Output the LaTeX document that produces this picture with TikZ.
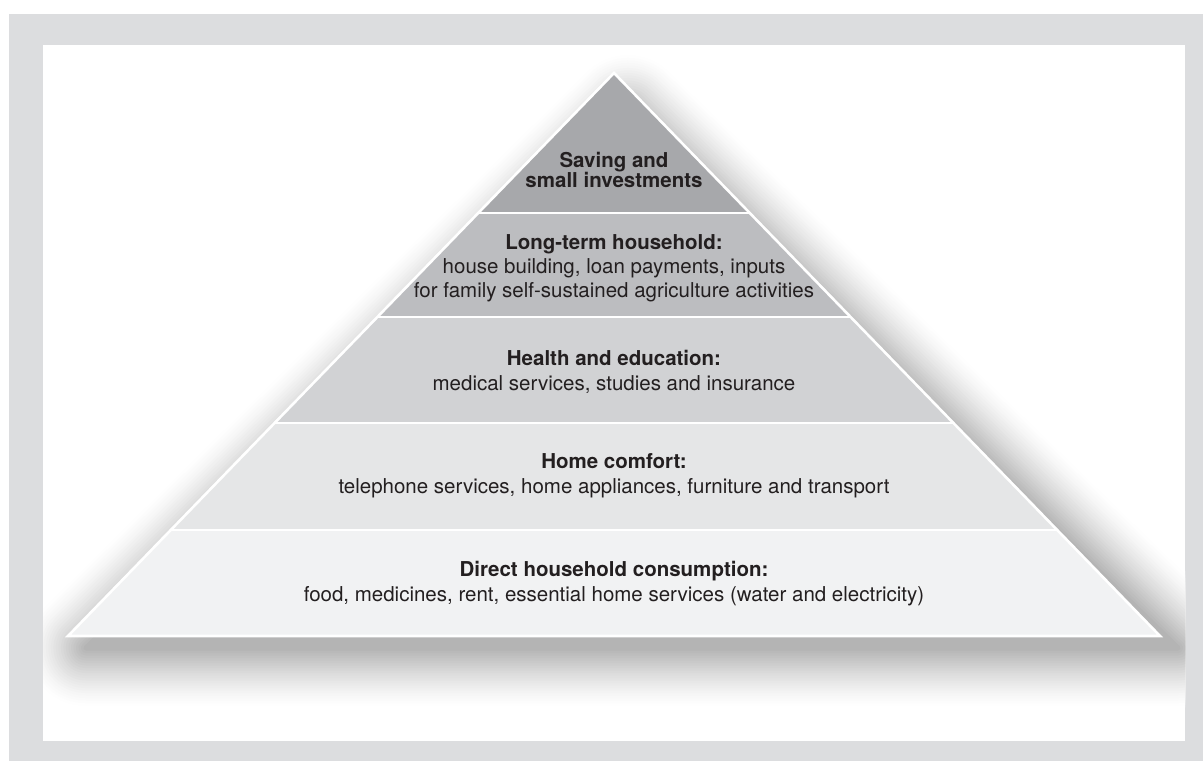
\documentclass[tikz,border=0pt]{standalone}
\usepackage{fontspec}
\setmainfont{TeX Gyre Heros}
\usepackage{tikz}
\usetikzlibrary{calc}
\definecolor{framegray}{HTML}{DCDDDF}
\definecolor{tierA}{HTML}{A7A8AB}
\definecolor{tierB}{HTML}{BCBDC0}
\definecolor{tierC}{HTML}{D1D2D4}
\definecolor{tierD}{HTML}{E5E6E7}
\definecolor{tierE}{HTML}{F1F2F3}
\definecolor{ink}{HTML}{231F20}
\tikzset{%
  tiertext/.style={anchor=base,align=center,inner sep=0pt,text=ink,
    font=\fontsize{20.5}{#1}\selectfont},
  tiertext/.default=24.5,
  tiersep/.style={white,line width=2.6pt}
}

\begin{document}
\begin{tikzpicture}[x=1pt,y=-1pt]
    \useasboundingbox (0,0) rectangle (1203,761);
    \fill[framegray] (9,14) rectangle (1203,761);
    \fill[white] (43,45) rectangle (1185,741);
    %
    \coordinate (apex) at (614,73);
    \coordinate (bl) at (68,636);
    \coordinate (br) at (1160,636);
    \foreach \n/\y in {1/213,2/317,3/423,4/530}{
      \coordinate (l\n) at ($(apex)!{(\y-73)/563}!(bl)$);
      \coordinate (r\n) at ($(apex)!{(\y-73)/563}!(br)$);
    }
    % soft shadow
    \begin{scope}
      \clip (43,45) rectangle (1185,741);
      \foreach \k in {0,...,23}{
        \pgfmathsetmacro\ow{60-2.5*\k}
        \pgfmathsetmacro\lw{2*\ow}
        \pgfmathsetmacro\gv{31*(1-\ow/60)^1.35}
        \filldraw[black!\gv,line width=\lw pt,line join=round]
          ($(apex)+(14,40)$) -- ($(bl)+(18,12)$) -- ($(br)+(18,12)$) -- cycle;
      }
    \end{scope}
    %
    \fill[tierA] (apex) -- (l1) -- (r1) -- cycle;
    \fill[tierB] (l1) -- (l2) -- (r2) -- (r1) -- cycle;
    \fill[tierC] (l2) -- (l3) -- (r3) -- (r2) -- cycle;
    \fill[tierD] (l3) -- (l4) -- (r4) -- (r3) -- cycle;
    \fill[tierE] (l4) -- (bl) -- (br) -- (r4) -- cycle;
    \foreach \n in {1,...,4}
      \draw[tiersep] (l\n) -- (r\n);
    \draw[tiersep,line join=miter] (apex) -- (bl) -- (br) -- cycle;
    %
    \node[tiertext=20] (saving) at (614,187)
      {\textbf{Saving and}\\\textbf{small investments}};
    \node[tiertext=24] (longterm) at (614,297)
      {\textbf{Long-term household:}\\house building, loan payments, inputs\\
       for family self-sustained agriculture activities};
    \node[tiertext=25] (health) at (614,390)
      {\textbf{Health and education:}\\medical services, studies and insurance};
    \node[tiertext=25] (comfort) at (614,493)
      {\textbf{Home comfort:}\\telephone services, home appliances, furniture and transport};
    \node[tiertext=25] (direct) at (614,601)
      {\textbf{Direct household consumption:}\\food, medicines, rent, essential home services (water and electricity)};
  \end{tikzpicture}
\end{document}
